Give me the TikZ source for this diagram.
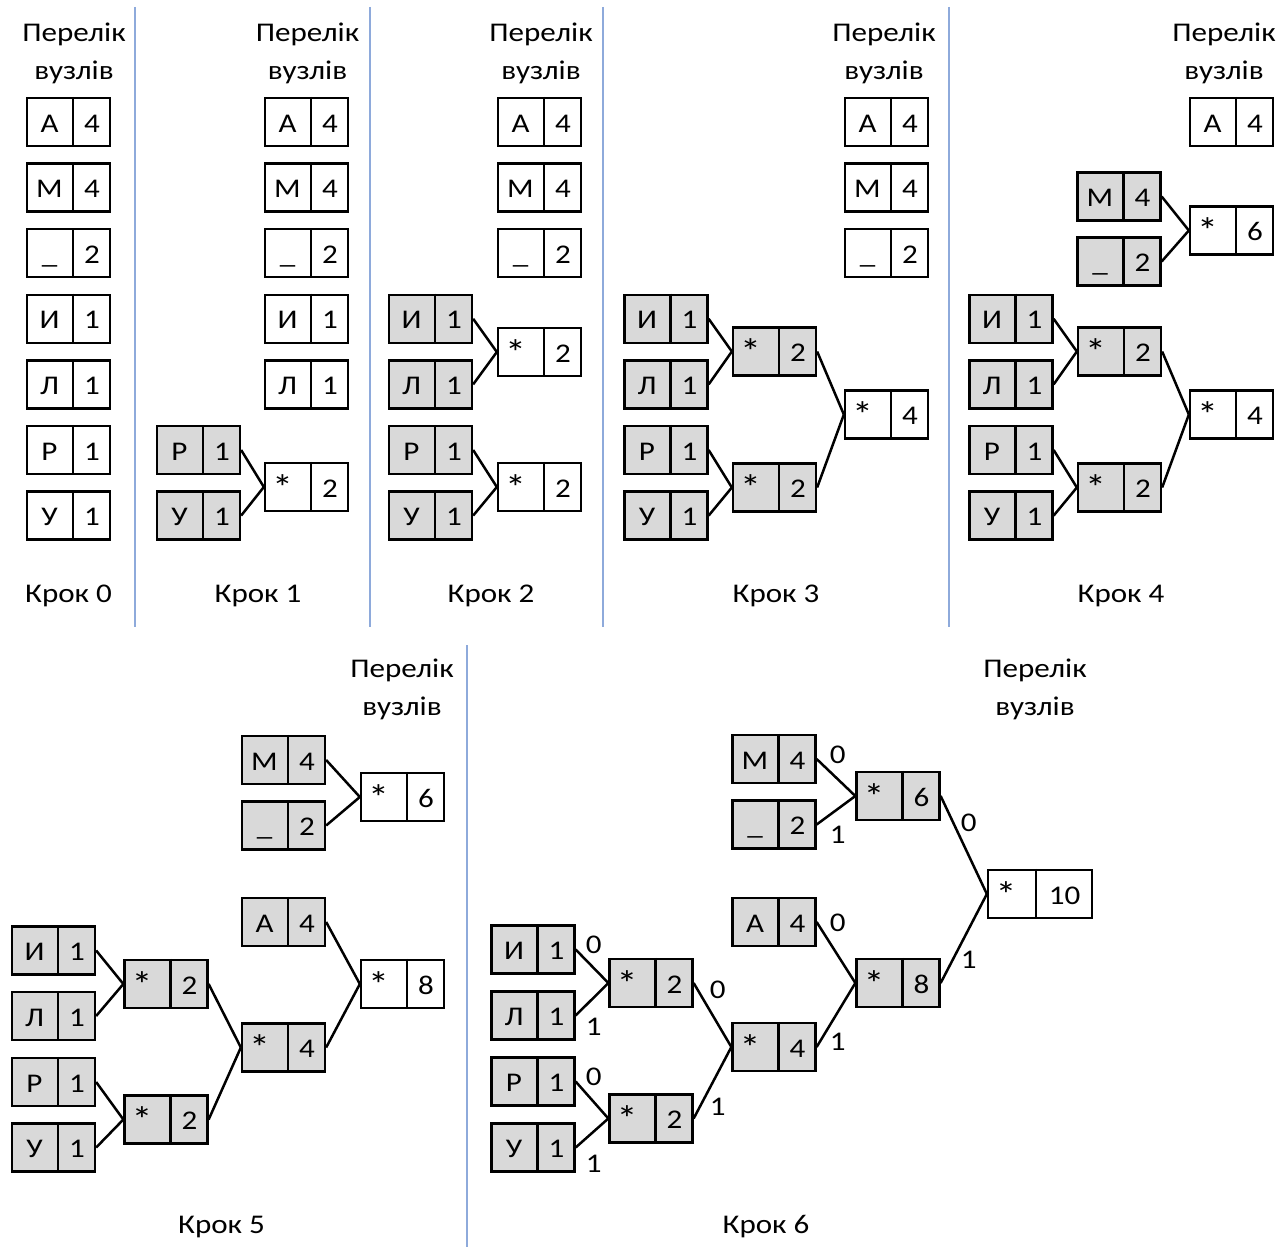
\documentclass[tikz,border=0pt]{standalone}
\usepackage{fontspec}
\setmainfont[FakeStretch=1.15]{Carlito}
\definecolor{cellgray}{HTML}{D9D9D9}
\definecolor{sepblue}{HTML}{8EAADB}

% one two-cell node: name, x, y, left text, right text, fill style, left text offset
\newcommand\cellnode[7]{%
  \node[cellbox,#6] (#1) at (#2,#3) {};
  \draw[cellline] ([xshift=4.5pt]#1.north) -- ([xshift=4.5pt]#1.south);
  \node[celltext] (#1-l) at ([xshift=#7,yshift=-10pt]#1.center) {#4};
  \node[celltext] (#1-r) at ([xshift=23.5pt,yshift=-10pt]#1.center) {#5};
}
\newcommand\joinmark{\raisebox{-3pt}{\scalebox{1.35}{*}}}
\newcommand\leafnode[6]{\cellnode{#1}{#2}{#3}{#4}{#5}{#6}{-19pt}}
\newcommand\joinnode[5]{\cellnode{#1}{#2}{#3}{\joinmark}{#4}{#5}{-24pt}}

\begin{document}
\begin{tikzpicture}[x=1pt,y=-1pt,
  font=\fontsize{27}{32}\selectfont,
  cellbox/.style={draw=black,line width=2.3pt,rectangle,inner sep=0pt,
    minimum width=83pt,minimum height=48pt},
  blank/.style={fill=white},
  merged/.style={fill=cellgray},
  cellline/.style={line width=2.3pt},
  celltext/.style={anchor=base,inner sep=0pt},
  link/.style={line width=2.5pt},
  bitlbl/.style={inner sep=0pt,anchor=center},
  divider/.style={draw=sepblue,line width=1.5pt},
  heading/.style={anchor=base,inner sep=0pt},
]
\useasboundingbox (0,0) rectangle (1287,1247);

% step separators
\draw[divider] (135,7) -- (135,627);
\draw[divider] (370,7) -- (370,627);
\draw[divider] (603,7) -- (603,627);
\draw[divider] (949,7) -- (949,627);
\draw[divider] (467,645) -- (467,1247);

% headings
\foreach \hx/\hy/\nm in {74/42/h0,307.5/42/h1,541/42/h2,884/42/h3,1224/42/h4,402/677/h5,1035/677/h6}{
  \node[heading] (\nm a) at (\hx,\hy) {Перелік};
  \node[heading] (\nm b) at (\hx,\hy+38) {вузлів};
}
\node[heading] (k0) at (68.5,602) {Крок 0};
\node[heading] (k1) at (258,602) {Крок 1};
\node[heading] (k2) at (491,602) {Крок 2};
\node[heading] (k3) at (776,602) {Крок 3};
\node[heading] (k4) at (1121,602) {Крок 4};
\node[heading] (k5) at (221.5,1233) {Крок 5};
\node[heading] (k6) at (766,1233) {Крок 6};

% ---------- step 0
\leafnode{a0A}{68.5}{122}{А}{4}{blank}
\leafnode{a0M}{68.5}{187.6}{М}{4}{blank}
\leafnode{a0S}{68.5}{253.2}{\_}{2}{blank}
\leafnode{a0I}{68.5}{318.8}{И}{1}{blank}
\leafnode{a0L}{68.5}{384.4}{Л}{1}{blank}
\leafnode{a0R}{68.5}{450}{Р}{1}{blank}
\leafnode{a0U}{68.5}{515.6}{У}{1}{blank}

% ---------- step 1
\leafnode{a1A}{306.5}{122}{А}{4}{blank}
\leafnode{a1M}{306.5}{187.6}{М}{4}{blank}
\leafnode{a1S}{306.5}{253.2}{\_}{2}{blank}
\leafnode{a1I}{306.5}{318.8}{И}{1}{blank}
\leafnode{a1L}{306.5}{384.4}{Л}{1}{blank}
\leafnode{a1R}{198.5}{450}{Р}{1}{merged}
\leafnode{a1U}{198.5}{515.6}{У}{1}{merged}
\joinnode{a1P}{306.5}{487}{2}{blank}
\draw[link] (a1R.east) -- (a1P.west);
\draw[link] (a1U.east) -- (a1P.west);

% ---------- step 2
\leafnode{a2A}{539.5}{122}{А}{4}{blank}
\leafnode{a2M}{539.5}{187.6}{М}{4}{blank}
\leafnode{a2S}{539.5}{253.2}{\_}{2}{blank}
\leafnode{a2I}{430.5}{318.8}{И}{1}{merged}
\leafnode{a2L}{430.5}{384.4}{Л}{1}{merged}
\leafnode{a2R}{430.5}{450}{Р}{1}{merged}
\leafnode{a2U}{430.5}{515.6}{У}{1}{merged}
\joinnode{a2P}{539.5}{352}{2}{blank}
\joinnode{a2Q}{539.5}{487}{2}{blank}
\draw[link] (a2I.east) -- (a2P.west);
\draw[link] (a2L.east) -- (a2P.west);
\draw[link] (a2R.east) -- (a2Q.west);
\draw[link] (a2U.east) -- (a2Q.west);

% ---------- step 3
\leafnode{a3A}{886.5}{122}{А}{4}{blank}
\leafnode{a3M}{886.5}{187.6}{М}{4}{blank}
\leafnode{a3S}{886.5}{253.2}{\_}{2}{blank}
\leafnode{a3I}{666}{318.8}{И}{1}{merged}
\leafnode{a3L}{666}{384.4}{Л}{1}{merged}
\leafnode{a3R}{666}{450}{Р}{1}{merged}
\leafnode{a3U}{666}{515.6}{У}{1}{merged}
\joinnode{a3P}{774.5}{351.5}{2}{merged}
\joinnode{a3Q}{774.5}{487.5}{2}{merged}
\joinnode{a3T}{886.5}{414.5}{4}{blank}
\draw[link] (a3I.east) -- (a3P.west);
\draw[link] (a3L.east) -- (a3P.west);
\draw[link] (a3R.east) -- (a3Q.west);
\draw[link] (a3U.east) -- (a3Q.west);
\draw[link] (a3P.east) -- (a3T.west);
\draw[link] (a3Q.east) -- (a3T.west);

% ---------- step 4
\leafnode{a4A}{1231.5}{122}{А}{4}{blank}
\leafnode{a4M}{1119}{196.5}{М}{4}{merged}
\leafnode{a4S}{1119}{261.5}{\_}{2}{merged}
\joinnode{a4V}{1231.5}{230.5}{6}{blank}
\draw[link] (a4M.east) -- (a4V.west);
\draw[link] (a4S.east) -- (a4V.west);
\leafnode{a4I}{1011}{318.8}{И}{1}{merged}
\leafnode{a4L}{1011}{384.4}{Л}{1}{merged}
\leafnode{a4R}{1011}{450}{Р}{1}{merged}
\leafnode{a4U}{1011}{515.6}{У}{1}{merged}
\joinnode{a4P}{1119.5}{351.5}{2}{merged}
\joinnode{a4Q}{1119.5}{487.5}{2}{merged}
\joinnode{a4T}{1231.5}{414.5}{4}{blank}
\draw[link] (a4I.east) -- (a4P.west);
\draw[link] (a4L.east) -- (a4P.west);
\draw[link] (a4R.east) -- (a4Q.west);
\draw[link] (a4U.east) -- (a4Q.west);
\draw[link] (a4P.east) -- (a4T.west);
\draw[link] (a4Q.east) -- (a4T.west);

% ---------- step 5
\leafnode{a5M}{283.5}{760}{М}{4}{merged}
\leafnode{a5S}{283.5}{825.5}{\_}{2}{merged}
\joinnode{a5V}{402.5}{797}{6}{blank}
\draw[link] (a5M.east) -- (a5V.west);
\draw[link] (a5S.east) -- (a5V.west);
\leafnode{a5A}{283.5}{922}{А}{4}{merged}
\joinnode{a5E}{402.5}{984}{8}{blank}
\leafnode{a5I}{53.5}{950.5}{И}{1}{merged}
\leafnode{a5L}{53.5}{1016}{Л}{1}{merged}
\leafnode{a5R}{53.5}{1082}{Р}{1}{merged}
\leafnode{a5U}{53.5}{1147.5}{У}{1}{merged}
\joinnode{a5P}{166}{984}{2}{merged}
\joinnode{a5Q}{166}{1119.5}{2}{merged}
\joinnode{a5T}{283.5}{1047.5}{4}{merged}
\draw[link] (a5I.east) -- (a5P.west);
\draw[link] (a5L.east) -- (a5P.west);
\draw[link] (a5R.east) -- (a5Q.west);
\draw[link] (a5U.east) -- (a5Q.west);
\draw[link] (a5P.east) -- (a5T.west);
\draw[link] (a5Q.east) -- (a5T.west);
\draw[link] (a5A.east) -- (a5E.west);
\draw[link] (a5T.east) -- (a5E.west);

% ---------- step 6
\leafnode{a6M}{774}{759}{М}{4}{merged}
\leafnode{a6S}{774}{824.5}{\_}{2}{merged}
\joinnode{a6V}{898}{796}{6}{merged}
\leafnode{a6A}{774}{922}{А}{4}{merged}
\joinnode{a6E}{898}{983}{8}{merged}
\leafnode{a6I}{533}{949.5}{И}{1}{merged}
\leafnode{a6L}{533}{1015.5}{Л}{1}{merged}
\leafnode{a6R}{533}{1081.5}{Р}{1}{merged}
\leafnode{a6U}{533}{1147.5}{У}{1}{merged}
\joinnode{a6P}{651}{983}{2}{merged}
\joinnode{a6Q}{651}{1118.5}{2}{merged}
\joinnode{a6T}{774}{1047}{4}{merged}
% root node, wider right cell
\node[cellbox,blank,minimum width=104pt] (a6W) at (1040,894) {};
\draw[cellline] ([xshift=-4pt]a6W.north) -- ([xshift=-4pt]a6W.south);
\node[celltext] (a6W-l) at ([xshift=-34pt,yshift=-10pt]a6W.center) {\joinmark};
\node[celltext] (a6W-r) at ([xshift=24.5pt,yshift=-10pt]a6W.center) {10};

\draw[link] (a6I.east) -- (a6P.west);
\draw[link] (a6L.east) -- (a6P.west);
\draw[link] (a6R.east) -- (a6Q.west);
\draw[link] (a6U.east) -- (a6Q.west);
\draw[link] (a6P.east) -- (a6T.west);
\draw[link] (a6Q.east) -- (a6T.west);
\draw[link] (a6M.east) -- (a6V.west);
\draw[link] (a6S.east) -- (a6V.west);
\draw[link] (a6A.east) -- (a6E.west);
\draw[link] (a6T.east) -- (a6E.west);
\draw[link] (a6V.east) -- (a6W.west);
\draw[link] (a6E.east) -- (a6W.west);

% code bits on the branches
\path (a6I.east) ++(18,-5)  node[bitlbl] (c1) {0};
\path (a6L.east) ++(18,11)  node[bitlbl] (c2) {1};
\path (a6R.east) ++(18,-5)  node[bitlbl] (c3) {0};
\path (a6U.east) ++(18,16)  node[bitlbl] (c4) {1};
\path (a6P.east) ++(24,7)   node[bitlbl] (c5) {0};
\path (a6Q.east) ++(24,-12) node[bitlbl] (c6) {1};
\path (a6M.east) ++(21,-4)  node[bitlbl] (c7) {0};
\path (a6S.east) ++(21,10)  node[bitlbl] (c8) {1};
\path (a6A.east) ++(21,1)   node[bitlbl] (c9) {0};
\path (a6T.east) ++(21,-5)  node[bitlbl] (c10) {1};
\path (a6V.east) ++(28,27)  node[bitlbl] (c11) {0};
\path (a6E.east) ++(28,-23) node[bitlbl] (c12) {1};
\end{tikzpicture}
\end{document}
